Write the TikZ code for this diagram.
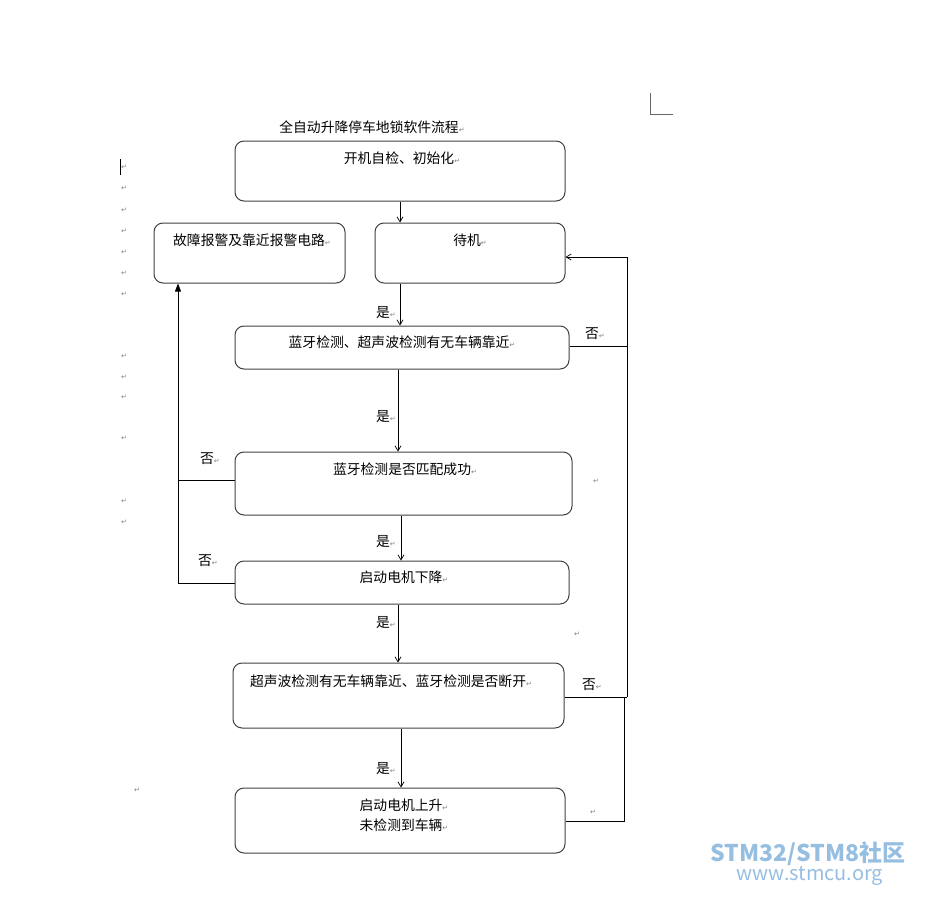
\documentclass[tikz,border=0pt]{standalone}
\usepackage{fontspec}
\setmainfont{Noto Sans CJK SC}
\newfontfamily\symf{DejaVu Sans}
\usetikzlibrary{arrows.meta}
\newcommand{\rt}{{\symf\fontsize{7}{7}\selectfont\color{gray}↵}}
\definecolor{wmc}{RGB}{150,190,225}
\tikzset{
 box/.style={draw=black!75, line width=1pt, rounded corners=9pt, inner sep=0pt},
 txt/.style={font=\fontsize{13.8}{16}\selectfont, inner sep=0pt},
 lab/.style={font=\fontsize{13.8}{16}\selectfont, inner sep=0pt},
 mk/.style={font=\symf\fontsize{7}{7}\selectfont, text=gray, inner sep=0pt},
 ln/.style={line width=0.7pt},
 arr/.style={line width=0.7pt, -{Straight Barb[length=5pt,width=6pt]}},
}
\begin{document}
\begin{tikzpicture}[x=1pt,y=-1pt]
\useasboundingbox (0,0) rectangle (930,900);
% boxes
\node[box, minimum width=330, minimum height=60] (init) at (400,171) {};
\node[box, minimum width=191, minimum height=60] (fault) at (249.5,253) {};
\node[box, minimum width=190, minimum height=60] (wait) at (470,253) {};
\node[box, minimum width=334, minimum height=43] (bt) at (402,347.5) {};
\node[box, minimum width=337, minimum height=63] (match) at (403.5,483.5) {};
\node[box, minimum width=334, minimum height=43] (down) at (402,582.5) {};
\node[box, minimum width=331, minimum height=65] (ultra) at (398.5,695.5) {};
\node[box, minimum width=330, minimum height=65] (up) at (400,820.5) {};
% texts
\node[txt] (t0) at (372,127) {全自动升降停车地锁软件流程\rt};
\node[txt] (t1) at (402,158) {开机自检、初始化\rt};
\node[txt] (t2) at (252,240) {故障报警及靠近报警电路\rt};
\node[txt] (t3) at (470,240) {待机\rt};
\node[txt] (t4) at (402,342) {蓝牙检测、超声波检测有无车辆靠近\rt};
\node[txt] (t5) at (405,469) {蓝牙检测是否匹配成功\rt};
\node[txt] (t6) at (404,577) {启动电机下降\rt};
\node[txt] (t7) at (391,681) {超声波检测有无车辆靠近、蓝牙检测是否断开\rt};
\node[txt] (t8) at (404,805) {启动电机上升\rt};
\node[txt] (t9) at (404,825) {未检测到车辆\rt};
% connectors
\draw[arr] (init.south -| 400,0) -- (wait.north -| 400,0);
\draw[arr] (wait.south -| 400,0) -- (bt.north -| 400,0);
\draw[arr] (bt.south -| 398,0) -- (match.north -| 398,0);
\draw[arr] (match.south -| 401,0) -- (down.north -| 401,0);
\draw[arr] (down.south -| 398,0) -- (ultra.north -| 398,0);
\draw[arr] (ultra.south -| 401,0) -- (up.north -| 401,0);
\coordinate (r1) at (627,346);
\coordinate (r2) at (627,257);
\coordinate (r3) at (627,697);
\draw[ln] (bt.east |- r1) -- (r1);
\draw[arr] (r3) -- (r2) -- (wait.east |- r2);
\draw[ln] (ultra.east |- r3) -- (r3);
\coordinate (r4) at (624,821);
\coordinate (r5) at (624,697);
\draw[ln] (up.east |- r4) -- (r4) -- (r5);
\coordinate (l1) at (178,480);
\coordinate (l2) at (178,583);
\draw[ln] (match.west |- l1) -- (l1);
\draw[line width=0.7pt, -{Triangle[length=8pt,width=6pt]}] (down.west |- l2) -- (l2) -- (fault.south -| l2);
% labels
\node[lab] (y1) at (386,313) {是\rt};
\node[lab] (y2) at (386,417) {是\rt};
\node[lab] (y3) at (386,542) {是\rt};
\node[lab] (y4) at (386,623) {是\rt};
\node[lab] (y5) at (386,769) {是\rt};
\node[lab] (n1) at (595,334) {否\rt};
\node[lab] (n2) at (210,459) {否\rt};
\node[lab] (n3) at (208,561) {否\rt};
\node[lab] (n4) at (592,685) {否\rt};
% margin marks
\foreach \yy in {167,188,210,231,252,273,294,356,377,397,438,501,522}
  \node[mk] at (124,\yy) {↵};
\node[mk] at (137,790) {↵};
\node[mk] at (596,481) {↵};
\node[mk] at (577,634) {↵};
\node[mk] at (593,812) {↵};
\draw[black!60, line width=0.6pt] (650,93) -- (650,114) -- (673,114);
\draw[black, line width=1pt] (120,159) -- (120,175);
% watermark
\node[font=\fontsize{23}{25}\selectfont\bfseries, text=wmc, inner sep=0pt] (wm1) at (808,854) {STM32/STM8社区};
\node[font=\fontsize{20}{22}\selectfont, text=wmc, inner sep=0pt] (wm2) at (810,876) {www.stmcu.org};
\end{tikzpicture}
\end{document}
